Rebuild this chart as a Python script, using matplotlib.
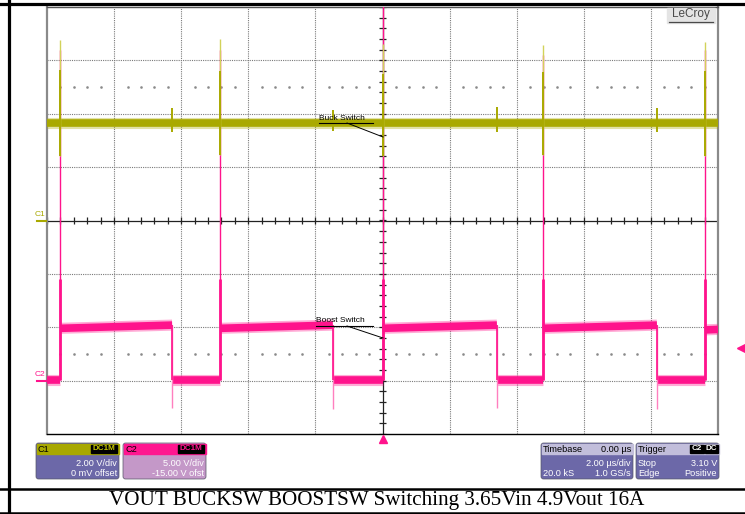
import numpy as np
import matplotlib
matplotlib.use("Agg")
import matplotlib.pyplot as plt
from matplotlib.patches import FancyBboxPatch, Rectangle

# ---------------- scope settings ----------------
c1_scale, c1_offset = 2.0, 0.0      # V/div, V
c2_scale, c2_offset = 5.0, -15.0    # V/div, V
t_div = 2.0                          # us/div

# ---------------- C1 (buck switch node) ----------------
c1_level = 3.65
c1_spike_t = [-9.6, -4.84, 0.0, 4.78, 9.61]
c1_spike_top = [6.77, 6.80, 6.60, 6.58, 6.69]
c1_spike_core = [5.65, 5.60, 5.50, 5.55, 5.60]
c1_spike_bot = [2.40, 2.45, 2.40, 2.45, 2.40]
c1_bump_t = [-6.27, -1.48, 3.41, 8.18]
c1_bump_top = [4.20, 4.15, 4.25, 4.20]
c1_bump_bot = [3.30, 3.35, 3.30, 3.30]

# ---------------- C2 (boost switch node) ----------------
c2_high_start = [-9.6, -4.84, 0.0, 4.78, 9.61]
c2_high_end = [-6.27, -1.48, 3.41, 8.18, 10.0]
c2_high_v0 = [4.90, 4.90, 4.90, 4.90, 4.75]
c2_high_v1 = [5.20, 5.20, 5.20, 5.20, 4.80]
c2_low_start = [-10.0, -6.27, -1.48, 3.41, 8.18]
c2_low_end = [-9.6, -4.84, 0.0, 4.78, 9.61]
c2_low_v = [0.10, 0.05, 0.05, 0.05, 0.05]
c2_rise_top = [31.0, 31.0, 36.0, 30.5, 31.0]
c2_rise_core = [9.5, 9.5, 9.5, 9.5, 9.5]
c2_fall_t = [-6.27, -1.48, 3.41, 8.18]
c2_fall_bot = [-2.6, -2.7, -2.6, -2.7]
trig_level = 3.10

c1_col, c1_light = "#a9a900", "#d2d25a"
c2_col, c2_light = "#ff138c", "#ff7fbf"


def d1(v):
    return (np.asarray(v, dtype=float) + c1_offset) / c1_scale


def d2(v):
    return (np.asarray(v, dtype=float) + c2_offset) / c2_scale


fig = plt.figure(figsize=(7.45, 5.14), dpi=100)
W, H = 745, 514
x0, x1, y0, y1 = 47, 718, 7, 434
ax = fig.add_axes([x0 / W, 1 - y1 / H, (x1 - x0) / W, (y1 - y0) / H])
ax.set_xlim(-5 * t_div, 5 * t_div)
ax.set_ylim(-4, 4)
ax.set_xticks([])
ax.set_yticks([])
for s in ("left", "right"):
    ax.spines[s].set_color("#8a8a8a")
    ax.spines[s].set_linewidth(1.6)
ax.spines["top"].set_color("#555555")
ax.spines["top"].set_linewidth(1.0)
ax.spines["bottom"].set_color("black")
ax.spines["bottom"].set_linewidth(1.0)

# ---------------- graticule ----------------
grid_kw = dict(color="#7a7a7a", lw=0.8, ls=(0, (1, 1)), zorder=1)
for k in range(-4, 5):
    if k != 0:
        ax.axvline(k * t_div, **grid_kw)
for k in range(-3, 4):
    if k != 0:
        ax.axhline(k, **grid_kw)
ax.axvline(0, color="#222222", lw=0.9, zorder=1)
ax.axhline(0, color="#222222", lw=0.9, zorder=1)
tx = np.arange(-5, 5.01, 0.2) * t_div
ty = np.arange(-4, 4.01, 0.2)
ax.vlines(tx, -0.06, 0.06, color="#222222", lw=0.9, zorder=1)
ax.hlines(ty, -0.09, 0.09, color="#222222", lw=0.9, zorder=1)
dots = tx[np.abs(tx / t_div - np.round(tx / t_div)) > 0.05]
for row in (2.5, -2.5):
    ax.plot(dots, np.full_like(dots, row), ls="none", marker="s",
            ms=0.8, color="#8a8a8a", zorder=1)

# ---------------- C2 trace ----------------
band = dict(solid_capstyle="butt", zorder=3)
for a, b, v0, v1 in zip(c2_high_start, c2_high_end, c2_high_v0, c2_high_v1):
    ax.plot([a, b], d2([v0, v1]), color=c2_col, lw=8, alpha=0.35, **band)
    ax.plot([a, b], d2([v0, v1]), color=c2_col, lw=5.5, **band)
for a, b, v in zip(c2_low_start, c2_low_end, c2_low_v):
    ax.plot([a, b], d2([v, v]), color=c2_col, lw=8, alpha=0.35, **band)
    ax.plot([a, b], d2([v, v]), color=c2_col, lw=5.5, **band)
ax.vlines(c2_high_start, d2(c2_low_v), d2(c2_rise_top), color=c2_col, lw=1.0, zorder=3)
ax.vlines(c2_high_start, d2(c2_low_v), d2(c2_rise_core), color=c2_col, lw=2.0, zorder=3)
ax.vlines(c2_fall_t, d2(c2_fall_bot), d2(c2_high_v1[:4]), color=c2_light, lw=1.0, zorder=3)
ax.vlines(c2_fall_t, d2(c2_low_v[1:]), d2(c2_high_v1[:4]), color=c2_col, lw=1.2, zorder=3)

# ---------------- C1 trace ----------------
ax.plot([-10, 10], d1([c1_level, c1_level]), color=c1_col, lw=8, alpha=0.35, **band)
ax.plot([-10, 10], d1([c1_level, c1_level]), color=c1_col, lw=5.5, **band)
ax.vlines(c1_spike_t, d1(c1_spike_bot), d1(c1_spike_top), color=c1_light, lw=1.0, zorder=4)
ax.vlines(c1_spike_t, d1(c1_spike_bot), d1(c1_spike_core), color=c1_col, lw=1.4, zorder=4)
ax.vlines(c1_bump_t, d1(c1_bump_bot), d1(c1_bump_top), color=c1_col, lw=1.4, zorder=4)

# ---------------- overlay in pixel coords ----------------
ov = fig.add_axes([0, 0, 1, 1], zorder=5)
ov.set_xlim(0, W)
ov.set_ylim(H, 0)
ov.axis("off")
ov.patch.set_alpha(0)

# table frame
ov.plot([0, W], [3.5, 3.5], color="black", lw=2.3)
ov.plot([9, 9], [0, H], color="black", lw=2.3)
ov.plot([0, W], [488.5, 488.5], color="black", lw=1.8)
ov.plot([0, W], [512.5, 512.5], color="black", lw=1.8)

# channel markers
yc1 = float(220.5 - d1(0) * 53.4)
yc2 = float(220.5 - d2(0) * 53.4)
ov.plot([37, 46], [yc1, yc1], color=c1_col, lw=1.5)
fig.text(35 / W, 1 - (yc1 - 3) / H, "C1", color=c1_col, fontsize=6,
         family="Liberation Sans", va="bottom", ha="left", rotation=0)
ov.plot([37, 46], [yc2, yc2], color=c2_col, lw=1.5)
fig.text(35 / W, 1 - (yc2 - 3) / H, "C2", color=c2_col, fontsize=6,
         family="Liberation Sans", va="bottom", ha="left", rotation=0)
ov.plot([383], [438.5], marker="^", color=c2_col, ms=5.5, ls="none")
ytr = float(220.5 - d2(trig_level) * 53.4)
ov.plot([741], [ytr], marker="<", color=c2_col, ms=5.5, ls="none")

# labels on traces
sf = dict(family="Liberation Sans", fontsize=6, color="black", va="center")
ov.text(319, 118, "Buck Switch", **sf)
ov.plot([319, 373], [123, 123], color="black", lw=0.8)
ov.plot([347, 383], [123, 137], color="black", lw=0.7)
ov.text(316, 320, "Boost Switch", **sf)
ov.plot([316, 373], [326, 326], color="black", lw=0.8)
ov.plot([347, 383], [326, 338], color="black", lw=0.7)

# LeCroy logo
ov.add_patch(Rectangle((667, 8), 48, 15, color="#e4e4e4", zorder=2))
ov.text(691, 14.5, "LeCroy", family="Liberation Sans", fontsize=8.5,
        color="#4a4a4a", ha="center", va="center", zorder=3)
ov.plot([669, 713], [22, 22], color="#4a4a4a", lw=0.9, zorder=3)


# info boxes
def info_box(xa, xb, head, body, title, right_title, rows, badges=()):
    ov.add_patch(FancyBboxPatch((xa, 443), xb - xa, 36, boxstyle="round,pad=0,rounding_size=2.5",
                                fc=body, ec="#555566", lw=0.5))
    ov.add_patch(Rectangle((xa + 0.5, 443.5), xb - xa - 1, 10.5, color=head))
    tf = dict(family="Liberation Sans", fontsize=6.6, va="center")
    ov.text(xa + 2, 449, title, color="black", ha="left", **tf)
    if right_title:
        ov.text(xb - 2, 449, right_title, color="black", ha="right", **tf)
    for bx0, bx1, txt, col in badges:
        ov.add_patch(Rectangle((bx0, 445), bx1 - bx0, 8, color="black"))
        ov.text((bx0 + bx1) / 2, 449, txt, color=col, ha="center",
                family="Liberation Sans", fontsize=5.8, weight="bold", va="center")
    for yy, left, right in rows:
        if left:
            ov.text(xa + 2, yy, left, color="white", ha="left", **tf)
        if right:
            ov.text(xb - 2, yy, right, color="white", ha="right", **tf)


info_box(36, 119, "#a8a800", "#6c68a8", "C1", None,
         [(463.5, None, "2.00 V/div"), (473.5, None, "0 mV offset")],
         [(91, 117, "DC1M", "#c8c800")])
info_box(123, 206, "#ff1690", "#c498c8", "C2", None,
         [(463.5, None, "5.00 V/div"), (473.5, None, "-15.00 V ofst")],
         [(178, 204, "DC1M", "#ff1690")])
info_box(541, 633, "#c2bedb", "#6c68a8", "Timebase", "0.00 \u00b5s",
         [(463.5, None, "2.00 \u00b5s/div"), (473.5, "20.0 kS", "1.0 GS/s")])
info_box(636, 719, "#c2bedb", "#6c68a8", "Trigger", None,
         [(463.5, "Stop", "3.10 V"), (473.5, "Edge", "Positive")],
         [(690, 704, "C2", "white"), (705, 718, "DC", "white")])

ov.text(377, 500.5, "VOUT BUCKSW BOOSTSW Switching 3.65Vin 4.9Vout 16A",
        family="Liberation Serif", fontsize=15.2, ha="center", va="center")

fig.savefig("out.png", dpi=100)
